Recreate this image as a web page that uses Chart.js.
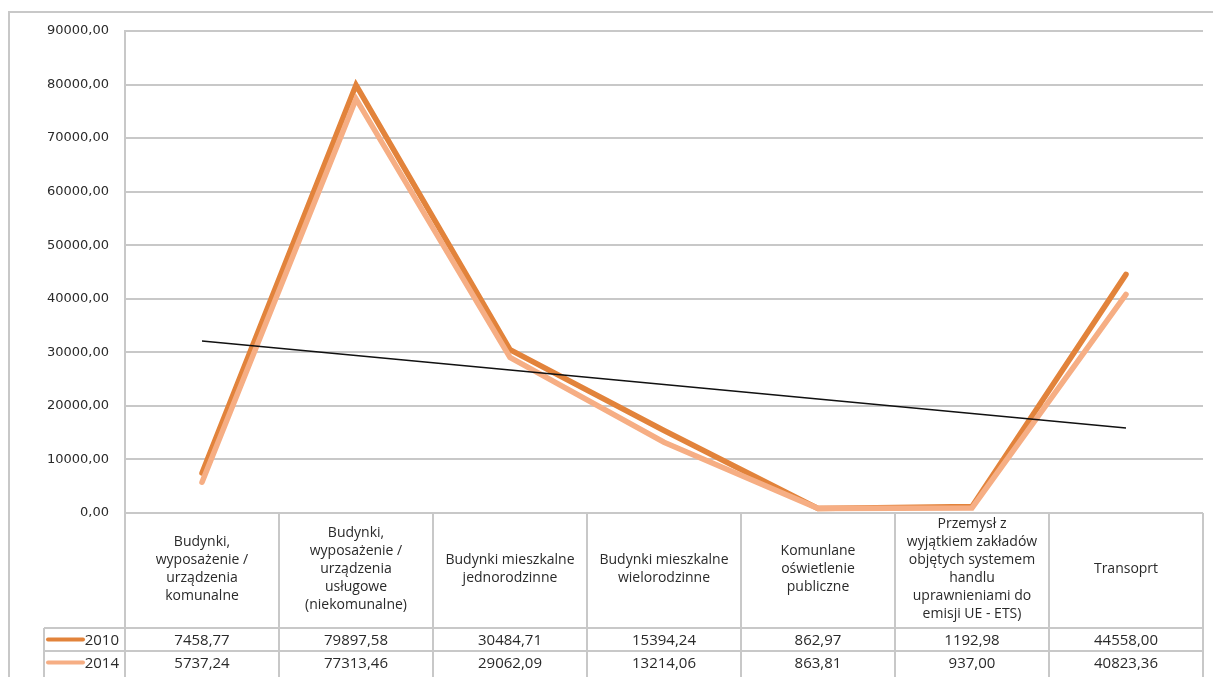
<!DOCTYPE html>
<html>
<head>
<meta charset="utf-8">
<script src="https://cdn.jsdelivr.net/npm/chart.js@4.4.1/dist/chart.umd.min.js"></script>
<style>
  html, body { margin: 0; padding: 0; background: #ffffff; }
  #wrap { width: 1213px; height: 677px; }
</style>
</head>
<body>
<div id="wrap"><canvas id="c" width="1213" height="677"></canvas></div>
<script>
// Category names (one entry per table column, already split into lines)
const categories = [
  ['Budynki,', 'wyposażenie /', 'urządzenia', 'komunalne'],
  ['Budynki,', 'wyposażenie /', 'urządzenia', 'usługowe', '(niekomunalne)'],
  ['Budynki mieszkalne', 'jednorodzinne'],
  ['Budynki mieszkalne', 'wielorodzinne'],
  ['Komunlane', 'oświetlenie', 'publiczne'],
  ['Przemysł z', 'wyjątkiem zakładów', 'objętych systemem', 'handlu', 'uprawnieniami do', 'emisji UE - ETS)'],
  ['Transoprt']
];
const seriesNames = ['2010', '2014'];
const values2010 = [7458.77, 79897.58, 30484.71, 15394.24, 862.97, 1192.98, 44558.00];
const values2014 = [5737.24, 77313.46, 29062.09, 13214.06, 863.81, 937.00, 40823.36];
const yMin = 0;
const yMax = 90000;
const yStep = 10000;

const COLOR_2010 = '#e2833b';
const COLOR_2014 = '#f6ae84';
const GRID = '#c8c8c8';
const TEXT = '#2a2a2a';
const HEAD_FONT = '14px "Open Sans", sans-serif';
const VALUE_FONT = '15px "Open Sans", sans-serif';

// Polish number format: two decimals, comma separator
const fmt = v => v.toFixed(2).replace('.', ',');

// Least-squares linear trend of the 2014 series
function linearTrend(vals) {
  const n = vals.length;
  const xs = vals.map((_, i) => i + 1);
  const mx = xs.reduce((a, b) => a + b, 0) / n;
  const my = vals.reduce((a, b) => a + b, 0) / n;
  let sxy = 0, sxx = 0;
  for (let i = 0; i < n; i++) {
    sxy += (xs[i] - mx) * (vals[i] - my);
    sxx += (xs[i] - mx) * (xs[i] - mx);
  }
  const slope = sxy / sxx;
  return xs.map(x => my + slope * (x - mx));
}
const trend2014 = linearTrend(values2014);

// Frame, data table and legend keys drawn around the plot
const tablePlugin = {
  id: 'dataTable',
  beforeDraw(chart) {
    const ctx = chart.ctx;
    ctx.save();
    ctx.strokeStyle = GRID;
    ctx.lineWidth = 2;
    ctx.beginPath();
    ctx.moveTo(9, 677);
    ctx.lineTo(9, 12);
    ctx.lineTo(1213, 12);
    ctx.stroke();
    ctx.restore();
  },
  afterDatasetsDraw(chart) {
    const ctx = chart.ctx;
    const area = chart.chartArea;
    const xs = chart.scales.x;
    const n = categories.length;
    const colW = xs.getPixelForValue(1) - xs.getPixelForValue(0);
    const edges = [];
    for (let i = 0; i <= n; i++) edges.push(xs.getPixelForValue(0) - colW / 2 + i * colW);

    const top = area.bottom;
    const headBottom = top + 115;
    const rowH = 23;
    const tableBottom = chart.height;
    const legendLeft = 44;

    ctx.save();
    ctx.strokeStyle = GRID;
    ctx.lineWidth = 2;
    ctx.beginPath();
    // horizontal rules
    ctx.moveTo(edges[0], top); ctx.lineTo(edges[n], top);
    ctx.moveTo(legendLeft, headBottom); ctx.lineTo(edges[n], headBottom);
    ctx.moveTo(legendLeft, headBottom + rowH); ctx.lineTo(edges[n], headBottom + rowH);
    // vertical rules
    for (let i = 0; i <= n; i++) {
      ctx.moveTo(edges[i], i === 0 ? area.top : top);
      ctx.lineTo(edges[i], tableBottom);
    }
    ctx.moveTo(legendLeft, headBottom); ctx.lineTo(legendLeft, tableBottom);
    ctx.stroke();

    // header text
    ctx.fillStyle = TEXT;
    ctx.font = HEAD_FONT;
    ctx.textAlign = 'center';
    ctx.textBaseline = 'middle';
    const lh = 18;
    const headMid = (top + headBottom) / 2 - 1;
    categories.forEach((lines, i) => {
      const cx = (edges[i] + edges[i + 1]) / 2;
      const y0 = headMid - (lines.length - 1) * lh / 2;
      lines.forEach((t, k) => ctx.fillText(t, cx, y0 + k * lh));
    });

    // value rows with legend keys
    ctx.font = VALUE_FONT;
    const rows = [values2010, values2014];
    const colors = [COLOR_2010, COLOR_2014];
    rows.forEach((vals, r) => {
      const cy = headBottom + r * rowH + rowH / 2 + 1;
      ctx.strokeStyle = colors[r];
      ctx.lineWidth = 4;
      ctx.lineCap = 'round';
      ctx.beginPath();
      ctx.moveTo(48, cy - 1);
      ctx.lineTo(83, cy - 1);
      ctx.stroke();
      ctx.textAlign = 'right';
      ctx.fillText(seriesNames[r], edges[0] - 6, cy);
      ctx.textAlign = 'center';
      vals.forEach((v, i) => ctx.fillText(fmt(v), (edges[i] + edges[i + 1]) / 2, cy));
    });
    ctx.restore();
  }
};

new Chart(document.getElementById('c'), {
  type: 'line',
  data: {
    labels: categories.map(l => l.join(' ')),
    datasets: [
      {
        label: 'Liniowy (2014)',
        data: trend2014,
        borderColor: '#111111',
        borderWidth: 1.5,
        pointRadius: 0,
        tension: 0,
        order: 0
      },
      {
        label: seriesNames[1],
        data: values2014,
        borderColor: COLOR_2014,
        borderWidth: 5.5,
        borderCapStyle: 'round',
        borderJoinStyle: 'miter',
        pointRadius: 0,
        tension: 0,
        order: 1
      },
      {
        label: seriesNames[0],
        data: values2010,
        borderColor: COLOR_2010,
        borderWidth: 5.5,
        borderCapStyle: 'round',
        borderJoinStyle: 'miter',
        pointRadius: 0,
        tension: 0,
        order: 2
      }
    ]
  },
  options: {
    responsive: false,
    animation: false,
    events: [],
    layout: { padding: { left: 0, right: 10, top: 31, bottom: 164 } },
    plugins: { legend: { display: false }, tooltip: { enabled: false } },
    scales: {
      x: {
        display: false,
        offset: true
      },
      y: {
        min: yMin,
        max: yMax,
        afterFit(scale) { scale.width = 125; },
        ticks: {
          stepSize: yStep,
          padding: 16,
          color: TEXT,
          font: { family: '"DejaVu Sans", Verdana, sans-serif', size: 13 },
          callback: v => fmt(v)
        },
        grid: { color: GRID, lineWidth: 2, drawTicks: false },
        border: { color: GRID, width: 2 }
      }
    }
  },
  plugins: [tablePlugin]
});
</script>
</body>
</html>
